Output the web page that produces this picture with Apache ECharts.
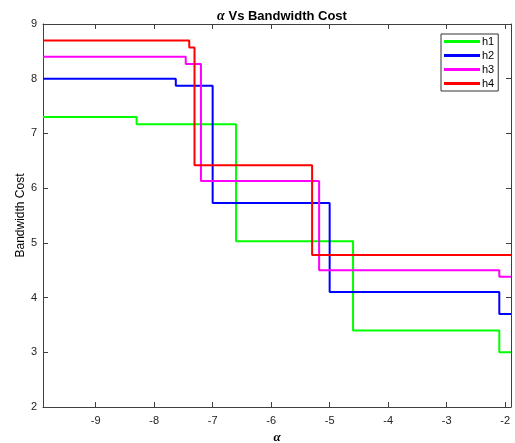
<!DOCTYPE html>
<html>
<head>
<meta charset="utf-8">
<script src="https://cdn.jsdelivr.net/npm/echarts@6/dist/echarts.min.js"></script>
<style>
  html, body { margin: 0; padding: 0; background: #fff; }
  #chart { width: 515px; height: 443px; }
</style>
</head>
<body>
<div id="chart"></div>
<script>
// step breakpoints (alpha) and costs
const h1X = [-9.9, -8.3, -6.6, -4.6, -2.1, -1.9];
const h1Y = [7.3, 7.17, 5.03, 3.4, 3.0, 3.0];
const h2X = [-9.9, -7.63, -7.0, -5.0, -2.1, -1.9];
const h2Y = [8.0, 7.87, 5.73, 4.1, 3.7, 3.7];
const h3X = [-9.9, -7.46, -7.2, -5.18, -2.1, -1.9];
const h3Y = [8.4, 8.27, 6.13, 4.5, 4.38, 4.38];
const h4X = [-9.9, -7.4, -7.31, -5.3, -1.9];
const h4Y = [8.7, 8.57, 6.42, 4.78, 4.78];

const seriesNames = ['h1', 'h2', 'h3', 'h4'];
const seriesColors = ['#00ff00', '#0000ff', '#ff00ff', '#ff0000'];
const xTicks = [-9, -8, -7, -6, -5, -4, -3, -2];
const yTicks = [2, 3, 4, 5, 6, 7, 8, 9];

const FONT = '"Liberation Sans", Arial, sans-serif';
const AXIS_COLOR = '#404040';

const pairs = (xs, ys) => xs.map((x, i) => [x, ys[i]]);
const allData = [pairs(h1X, h1Y), pairs(h2X, h2Y), pairs(h3X, h3Y), pairs(h4X, h4Y)];

const chart = echarts.init(document.getElementById('chart'));

const baseX = {
    type: 'value', min: -9.9, max: -1.9,
    axisLine: { show: true, lineStyle: { color: AXIS_COLOR, width: 1 } },
    axisTick: { show: true, inside: true, length: 5, customValues: xTicks, lineStyle: { color: AXIS_COLOR } },
    splitLine: { show: false }
};
const baseY = {
    type: 'value', min: yTicks[0], max: yTicks[yTicks.length - 1], interval: 1,
    axisLine: { show: true, lineStyle: { color: AXIS_COLOR, width: 1 } },
    axisTick: { show: true, inside: true, length: 5, lineStyle: { color: AXIS_COLOR } },
    splitLine: { show: false }
};

chart.setOption({
    animation: false,
    backgroundColor: '#fff',
    title: {
        text: '{a|α} Vs Bandwidth Cost',
        left: 277, top: 4, textAlign: 'center',
        textStyle: {
            fontFamily: FONT, fontSize: 13, fontWeight: 'bold', color: '#000',
            rich: { a: { fontFamily: '"Liberation Serif", serif', fontStyle: 'italic', fontWeight: 'bold', fontSize: 14, color: '#000' } }
        }
    },
    grid: { left: 43, right: 4, top: 24, bottom: 36, containLabel: false, outerBoundsMode: 'none' },
    legend: {
        orient: 'vertical', left: 441, top: 34,
        data: seriesNames.map(n => ({ name: n, icon: 'rect' })),
        itemWidth: 36, itemHeight: 3, itemGap: 3,
        padding: [2, 4, 2, 3],
        borderColor: '#333', borderWidth: 1, backgroundColor: '#fff',
        textStyle: { fontFamily: FONT, fontSize: 11, color: '#000', padding: [0, 0, 0, -3] }
    },
    xAxis: [
        Object.assign({}, baseX, {
            position: 'bottom',
            name: 'α', nameLocation: 'middle', nameGap: 24, nameMoveOverlap: false,
            nameTextStyle: { fontFamily: '"Liberation Serif", serif', fontStyle: 'italic', fontWeight: 'bold', fontSize: 13, color: '#000' },
            axisLabel: { customValues: xTicks, margin: 8, fontFamily: FONT, fontSize: 11, color: '#222' }
        }),
        Object.assign({}, baseX, { position: 'top', axisLabel: { show: false } })
    ],
    yAxis: [
        Object.assign({}, baseY, {
            position: 'left',
            name: 'Bandwidth Cost', nameLocation: 'middle', nameGap: 16, nameMoveOverlap: false,
            nameTextStyle: { fontFamily: FONT, fontSize: 12, color: '#000' },
            axisLabel: { margin: 6, fontFamily: FONT, fontSize: 11, color: '#222' }
        }),
        Object.assign({}, baseY, { position: 'right', axisLabel: { show: false } })
    ],
    series: allData.map((d, i) => ({
        name: seriesNames[i],
        type: 'line',
        step: 'end',
        data: d,
        showSymbol: false,
        color: seriesColors[i],
        lineStyle: { width: 2, color: seriesColors[i] }
    }))
});
</script>
</body>
</html>
